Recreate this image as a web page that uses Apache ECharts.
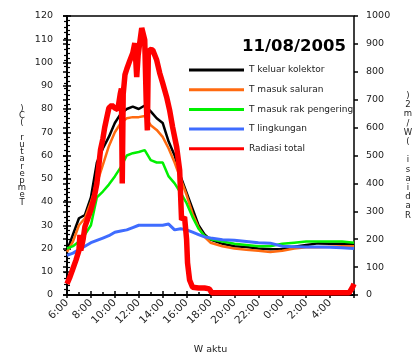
<!DOCTYPE html>
<html><head><meta charset="utf-8">
<script src="https://cdn.jsdelivr.net/npm/echarts@6/dist/echarts.min.js"></script>
<style>html,body{margin:0;padding:0;background:#fff}#c{width:414px;height:353px}</style>
</head><body><div id="c"></div>
<script>
// hours after 06:00
const tempHours = [0,0.5,1,1.5,2,2.5,3,3.5,4,4.5,5,5.5,6,6.5,7,7.5,8,8.5,9,9.5,10,10.5,11,11.5,12,13,14,15,16,17,18,19,20,21,22,23,24];
const tKeluarKolektor = [19,26,33,34.4,42,57,63,68,74,78,80,81,80,81.5,79,76,74,66,60,51,44,37,30,26,23.8,22,21,20.6,20,19.7,19.8,20.8,21.5,22.2,22,22,22];
const tMasukSaluran = [18.5,23,30,33,40,48,56,64,70,74,76,76.5,76.5,77,73,71,68,63,57,50,43,35,29,25,22.5,21,20,19.5,19,18.5,19,20,20.5,20.5,20.8,21,21];
const tMasukRak = [20,21,23,26,30,42,44.5,47.5,51,55,60,61,61.5,62.3,58,57,57,51,48,44,39.5,33.5,28.5,25.5,24,23,22,21.5,21,21,22,22.5,23,23,23,23,22.5];
const tLingkungan = [17,18,19.5,21,22.5,23.5,24.5,25.5,27,27.5,28,29,30,30,30,30,30,30.5,28,28.5,28,27,26,25,24.5,23.8,23.5,23,22.5,22.3,21,20.8,20.6,20.6,20.5,20.3,20];
const radHours = [0,0.25,0.5,0.75,1,1.08,1.15,1.35,1.5,1.75,2,2.25,2.5,2.65,2.8,3,3.15,3.35,3.5,3.75,4,4.25,4.45,4.55,4.62,4.7,4.85,5,5.25,5.5,5.67,5.83,5.95,6.08,6.25,6.5,6.62,6.72,6.8,6.9,7.17,7.5,7.75,8,8.33,8.58,8.83,9.17,9.42,9.58,9.83,10,10.08,10.25,10.5,11,11.5,11.9,12.1,13,15,17,19,21,23,23.6,23.75,23.9,24];
const radiasiTotal = [40,65,95,125,160,215,160,200,245,275,305,345,400,460,520,560,600,640,670,680,670,665,720,740,400,720,790,810,840,867,903,781,860,903,957,914,700,590,860,880,878,842,796,760,710,663,602,530,448,269,280,200,115,54,28,25,25,22,8,8,8,8,8,8,8,8,15,30,40];
const xTickLabels = ['6:00','8:00','10:00','12:00','14:00','16:00','18:00','20:00','22:00','0:00','2:00','4:00',''];
const names = ['T keluar kolektor','T masuk saluran','T masuk rak pengering','T lingkungan','Radiasi total'];
const colors = ['#000000','#ff6a10','#00f000','#3f6cff','#ff0000'];

const pair = (xs, ys) => xs.map((x, i) => [x, ys[i]]);
const stack = s => s.split('').reverse().join('\n');
const font = 'DejaVu Sans';
const lab = {color:'#222', fontSize:9.5, fontFamily:font};

const chart = echarts.init(document.getElementById('c'));
const lineSeries = (name, data, color, w, yi) => ({
  name, type:'line', data, yAxisIndex: yi, showSymbol:false, symbol:'none',
  lineStyle:{color, width:w}, itemStyle:{color}, animation:false, z: yi===1?5:3
});
chart.setOption({
  animation:false,
  title:{text:'11/08/2005', left:237, top:33, textStyle:{fontFamily:font, fontWeight:'bold', fontSize:16.5, color:'#000'}},
  legend:{orient:'vertical', left:184, top:59, itemWidth:55, itemHeight:3, itemGap:7.7, icon:'rect',
    data:names, textStyle:{fontFamily:font, fontSize:9, color:'#222', lineHeight:12}},
  grid:{left:67, right:60, top:16, bottom:58, show:true, borderColor:'#000', borderWidth:1.5, containLabel:false, outerBoundsMode:'none'},
  xAxis:[
    {type:'value', min:0, max:24, interval:2, position:'bottom',
     name:'W aktu', nameLocation:'middle', nameGap:50, nameTextStyle:{fontFamily:font, fontSize:9.5, color:'#222'},
     axisLine:{lineStyle:{color:'#000', width:2}},
     axisTick:{inside:false, length:3, lineStyle:{color:'#000', width:1.5}},
     splitLine:{show:false},
     axisLabel:{show:true, rotate:45, margin:6, color:'#222', fontSize:10.5, fontFamily:font, hideOverlap:false,
       formatter:(v)=>xTickLabels[Math.round(v/2)]}},
    {type:'value', min:0, max:24, interval:2, position:'bottom',
     axisLine:{show:false}, axisTick:{inside:true, length:4, lineStyle:{color:'#000', width:1.5}},
     minorTick:{show:true, splitNumber:2, length:3, lineStyle:{color:'#000', width:1.5}},
     splitLine:{show:false}, axisLabel:{show:false}}
  ],
  yAxis:[
    {type:'value', min:0, max:120, interval:10, position:'left',
     name:stack('Temperatur (C)'), nameLocation:'middle', nameRotate:0, nameGap:45,
     nameTextStyle:{fontFamily:font, fontSize:8.5, color:'#222', align:'center', verticalAlign:'middle', lineHeight:7.2},
     axisLine:{show:true, lineStyle:{color:'#000', width:2}},
     axisTick:{show:true, inside:true, length:4, lineStyle:{color:'#000', width:1.5}},
     minorTick:{show:true, splitNumber:5, length:3, lineStyle:{color:'#000', width:1.2}},
     splitLine:{show:false}, axisLabel:Object.assign({margin:14, formatter:(v)=>String(v)}, lab)},
    {type:'value', min:0, max:1000, interval:100, position:'right',
     name:stack('Radiasi (W/m2)'), nameLocation:'middle', nameRotate:0, nameGap:54,
     nameTextStyle:{fontFamily:font, fontSize:8.5, color:'#222', align:'center', verticalAlign:'middle', lineHeight:9.2},
     axisLine:{show:true, lineStyle:{color:'#000', width:2}},
     axisTick:{show:true, inside:true, length:4, lineStyle:{color:'#000', width:1.5}},
     minorTick:{show:true, splitNumber:5, length:3, lineStyle:{color:'#000', width:1.2}},
     splitLine:{show:false}, axisLabel:Object.assign({margin:12, formatter:(v)=>String(v)}, lab)},
    {type:'value', min:0, max:120, interval:10, position:'left',
     axisLine:{show:false}, axisTick:{show:true, inside:false, length:4, lineStyle:{color:'#000', width:1.5}},
     splitLine:{show:false}, axisLabel:{show:false}},
    {type:'value', min:0, max:1000, interval:100, position:'right',
     axisLine:{show:false}, axisTick:{show:true, inside:false, length:4, lineStyle:{color:'#000', width:1.5}},
     splitLine:{show:false}, axisLabel:{show:false}}
  ],
  series:[
    lineSeries(names[0], pair(tempHours, tKeluarKolektor), colors[0], 2.5, 0),
    lineSeries(names[1], pair(tempHours, tMasukSaluran), colors[1], 2.5, 0),
    lineSeries(names[2], pair(tempHours, tMasukRak), colors[2], 2.5, 0),
    lineSeries(names[3], pair(tempHours, tLingkungan), colors[3], 3, 0),
    lineSeries(names[4], pair(radHours, radiasiTotal), colors[4], 5.5, 1)
  ]
});
</script></body></html>
